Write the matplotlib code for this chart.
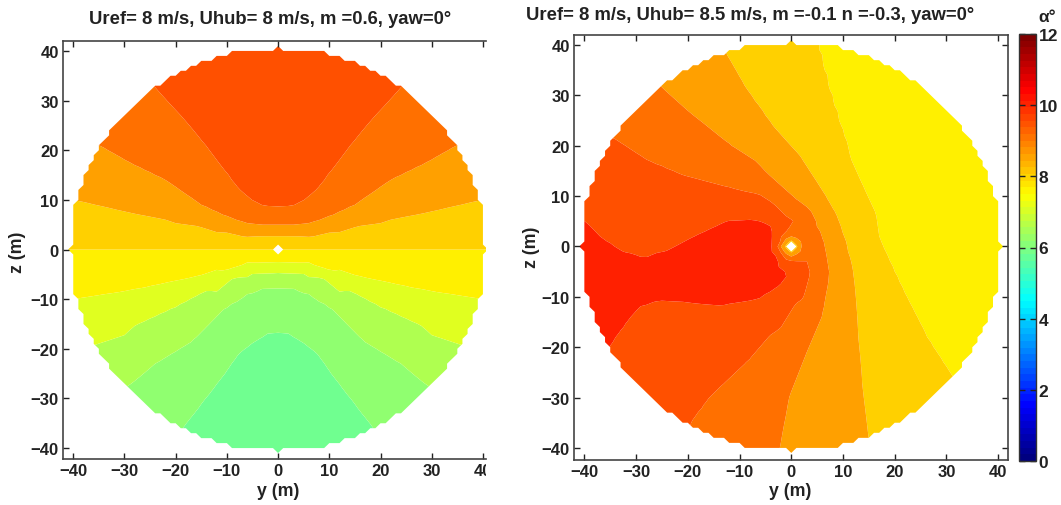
import numpy as np
import matplotlib
matplotlib.use('Agg')
from matplotlib import pyplot as plt
from matplotlib import tri
from matplotlib.cm import ScalarMappable
from matplotlib.colors import LinearSegmentedColormap, Normalize
from matplotlib.transforms import Bbox

plt.rcParams['font.family'] = ['Liberation Sans', 'DejaVu Sans']
plt.rcParams['font.weight'] = 'bold'

W, H = 1061, 506
INK = '#222222'

# left rotor: isolines, y >= 0 half (mirrored below)
l60_y = [0, 2, 5, 7.6, 10.8, 14.7, 18.6, 24]
l60_z = [-16.7, -16.9, -18.8, -20.8, -25.5, -30.7, -35.9, -42.5]
l65_y = [0, 3, 6, 10.8, 17.3, 24, 29, 35]
l65_z = [-7.7, -7.8, -9, -12, -18.8, -23, -27.2, -32.5]
l70_y = [0, 5, 8.7, 14, 20, 28, 35.4, 42]
l70_z = [-4.7, -4.9, -5.7, -8.2, -11.5, -15.3, -19.1, -22.5]
l75_y = [0, 4, 8, 11, 15.7, 20, 25, 32, 39.5, 43]
l75_z = [-2.6, -2.7, -3.6, -4.4, -5.4, -6.3, -7.4, -8.7, -9.9, -10.6]
l80_y = [0, 3, 6, 9, 12, 16, 20, 25, 30, 36, 43]
l80_z = [0, 0, 0, 0, 0, 0, 0, 0, 0, 0, 0]
l85_y = [0, 3, 6.3, 10, 15.7, 22, 29, 39.5, 43]
l85_z = [2.7, 2.7, 2.5, 3.4, 4.7, 6, 7.4, 9.9, 10.7]
l90_y = [0, 3, 6, 10, 15, 22, 29, 35, 42]
l90_z = [5, 5, 5.2, 6.6, 9, 14, 17.5, 21, 25]
l95_y = [0, 2, 4, 5.5, 7.6, 10.5, 14, 19, 24.2, 31]
l95_z = [8.4, 8.5, 9.2, 10.2, 12, 16, 20.8, 27, 33, 41.5]
# points inside the left bands
l57_y = [0, 0, 0, 12, 5, 10]
l57_z = [-25, -35, -43, -43, -30, -38]
l625_y = [0, 4, 8, 14, 22, 30]
l625_z = [-12, -13, -16, -23, -33, -37]
l675_y = [0, 6, 12, 22, 30, 38]
l675_z = [-6, -7.2, -11, -17, -21, -25]
l725_y = [0, 6, 12, 20, 30, 42]
l725_z = [-3.6, -3.9, -6, -9, -13.5, -16.5]
l775_y = [0, 6, 12, 20, 30, 43]
l775_z = [-1.3, -1.3, -2.2, -3.2, -4.2, -5.3]
l825_y = [0, 6, 12, 20, 30, 43]
l825_z = [1.4, 1.3, 1.8, 2.8, 3.8, 5.3]
l875_y = [0, 6, 12, 20, 30, 42]
l875_z = [3.9, 3.9, 5.2, 7.8, 12, 18]
l925_y = [0, 5, 10, 18, 25, 32, 37]
l925_z = [6.7, 7.2, 10, 17.2, 23.5, 30, 36]
l98_y = [0, 0, 0, 12, 5, 10, 20]
l98_z = [15, 30, 43, 42, 20, 30, 36]

# right rotor: isolines
r80_y = [5, 5.5, 8.1, 10.7, 13.9, 17.1, 21.6, 26.2, 31, 34]
r80_z = [42, 40.1, 29.9, 21.3, 12, 1.4, -8.5, -17.7, -25.3, -28]
r85_y = [-14.5, -12.5, -8.6, -3.5, 1.7, 5.5, 8.8, 10.5, 12, 12.9, 13.6, 14.9, 15.5]
r85_z = [42, 38.2, 31.2, 23.9, 18, 12, 6.1, 1, -5.2, -17.1, -26.3, -37.6, -42]
r90_y = [-28, -25.1, -19.6, -11.9, -4.8, 1, 4.9, 6.3, 7.3, 6.2, 3, -0.3, -2.2, -2.8]
r90_z = [35, 31.7, 26.6, 20.3, 14.7, 9.4, 4.1, 1, -5.2, -12.4, -21, -29.6, -40, -43]
r95_y = [-37, -34.1, -28, -20.3, -11.9, -3.5, 0.4, -0.5, -1.9, -2.2, -1.7, 0.7,
         3, 3.7, 2.3, -2.2, -8.6, -13.8, -16.7, -19.6, -23]
r95_z = [23.5, 21.4, 17.3, 14, 11.7, 8.6, 5.1, 3.4, 2.1, 0.1, -1.7, -2.7,
         -2.8, -5.2, -10.5, -16.4, -23, -28, -31, -35, -41]
r100_y = [-42, -39.9, -36.4, -32.5, -28.3, -24.1, -19.9, -12.2, -7.4, -4.1, -3.5, -3.6, -2.5,
          -0.6, -2.2, -6.4, -13.2, -19.6, -25.4, -29.3, -32.5, -35.1, -36.5]
r100_z = [6.5, 5, 1.4, -1.2, -2.3, -0.9, 1.4, 5.1, 5.4, 4.4, 2.1, -0.5, -2.5,
          -5.5, -7.8, -10.5, -11.6, -11.1, -10.6, -11.8, -15.8, -19.7, -23]
# hub ring and points inside the right bands
ring_y = [2, 1.4, 0, -1.4, -2, -1.4, 0, 1.4]
ring_z = [0, 1.4, 2, 1.4, 0, -1.4, -2, -1.4]
hub_y = [1, 0, -1, 0]
hub_z = [0, 1, 0, -1]
r775_y = [20, 43, 43, 30, 12, 25, 30, 10, 15, 20, 27, 33, 35, 38]
r775_z = [20, 15, -12, 33, 42, 5, -10, 30, 20, 8, -5, -20, 10, -5]
r825_y = [-4, -1.6, 2.5, 8, 12.8, 15.8, 18.9, 22, 26]
r825_z = [43, 35, 25, 15, 5, -5, -15, -25, -35]
r875_y = [-22, -15, -6, 0.8, 6.8, 8.4, 9.6, 9, 7.6, 6.6, 6]
r875_z = [38, 30, 20, 12, 5, 0, -5, -15, -25, -35, -42]
r925_y = [-29.5, -19, -7.5, 0, 2.8, 4, 5, 5.5, 4.8, 2.8, -2, -5, -10.5, -13]
r925_z = [26.8, 19.8, 13.8, 7.6, 5, 1, 1.5, -5, -9, -13, -20, -26, -36, -42]
r975_y = [-42, -37, -30, -20, -10, -5, -2, -2.9, -1, 1.5, -1, -6, -15, -25, -30, -22, -37]
r975_z = [15, 13.5, 8.5, 8, 8, 7, 4.5, 0, -3.5, -5.5, -9.5, -15, -20, -22, -25, -33, -28]
r1025_y = [-20, -35, -10, -42, -6, -28, -30, -38, -38, -15, -10, -5.5, -4, -15, -25, -34, -37]
r1025_z = [-5, -8, -3, -5, -4, -6, -6, -2, -10, -1, 1.5, 1, -4.5, -7, -5, -9, -15]

levels = np.arange(5.5, 11, 0.5)
band_colors = ['#70FF90', '#90FF70', '#AFFF50', '#E0FF20', '#FFF000',
               '#FFD000', '#FFA000', '#FF7000', '#FF5000', '#FF2000']
tick_vals = [-40, -30, -20, -10, 0, 10, 20, 30, 40]
bar_ticks = [0, 2, 4, 6, 8, 10, 12]
jet_pos = [0, 0.125, 0.375, 0.625, 0.875, 1]
jet_rgb = [(0, 0, 0.5), (0, 0, 1), (0, 1, 1), (1, 1, 0), (1, 0, 0), (0.5, 0, 0)]

jet = LinearSegmentedColormap.from_list('matlab_jet', list(zip(jet_pos, jet_rgb)), N=64)
norm = Normalize(0, 12)


def mirror(y, z):
    # left field is symmetric in y
    y = np.array(y, float)
    z = np.array(z, float)
    return np.r_[y, -y[y > 0]], np.r_[z, z[y > 0]]


def on_grid(ys, zs, vals):
    # 1 m grid with the rotor mask, as in the original staircase outline
    ys = np.concatenate(ys)
    zs = np.concatenate(zs)
    vals = np.concatenate(vals)
    pts = np.c_[ys, zs, vals]
    _, idx = np.unique(pts[:, :2], axis=0, return_index=True)
    pts = pts[idx]
    t = tri.Triangulation(pts[:, 0], pts[:, 1])
    f = tri.LinearTriInterpolator(t, pts[:, 2])
    gy, gz = np.meshgrid(np.arange(-41, 42), np.arange(-41, 42))
    a = np.ma.filled(f(gy, gz), np.nan)
    r = np.hypot(gy, gz)
    a = np.ma.masked_where((r > 41) | (r < 0.5) | np.isnan(a), a)
    return gy, gz, a


def make_axes(fig, x0, x1, y0, y1):
    return fig.add_axes([x0 / W, 1 - y1 / H, (x1 - x0) / W, (y1 - y0) / H])


def style(ax):
    ax.set_xticks(tick_vals)
    ax.set_yticks(tick_vals)
    ax.tick_params(direction='in', length=4, width=1, color=INK, top=True, right=True,
                   labelsize=12, labelcolor=INK, pad=3)
    for s in ax.spines.values():
        s.set_linewidth(1.2)
        s.set_color('#444444')


left_ys, left_zs, left_vals = [], [], []
for y, z, v in [(l60_y, l60_z, 6.0), (l65_y, l65_z, 6.5), (l70_y, l70_z, 7.0), (l75_y, l75_z, 7.5),
                (l80_y, l80_z, 8.0), (l85_y, l85_z, 8.5), (l90_y, l90_z, 9.0), (l95_y, l95_z, 9.5),
                (l57_y, l57_z, 5.7), (l625_y, l625_z, 6.25), (l675_y, l675_z, 6.75),
                (l725_y, l725_z, 7.25), (l775_y, l775_z, 7.75), (l825_y, l825_z, 8.25),
                (l875_y, l875_z, 8.75), (l925_y, l925_z, 9.25), (l98_y, l98_z, 9.8)]:
    my, mz = mirror(y, z)
    left_ys.append(my)
    left_zs.append(mz)
    left_vals.append(np.full(len(my), v))

right_ys, right_zs, right_vals = [], [], []
for y, z, v in [(r80_y, r80_z, 8.0), (r85_y, r85_z, 8.5), (r90_y, r90_z, 9.0), (r95_y, r95_z, 9.5),
                (r100_y, r100_z, 10.0), (ring_y, ring_z, 9.0), (hub_y, hub_z, 8.4),
                (r775_y, r775_z, 7.75), (r825_y, r825_z, 8.25), (r875_y, r875_z, 8.75),
                (r925_y, r925_z, 9.25), (r975_y, r975_z, 9.75), (r1025_y, r1025_z, 10.25)]:
    right_ys.append(np.array(y, float))
    right_zs.append(np.array(z, float))
    right_vals.append(np.full(len(y), v))

fig = plt.figure(figsize=(W / 100, H / 100), dpi=100)

ax1 = make_axes(fig, 63, 486, 42, 460)
gy, gz, a = on_grid(left_ys, left_zs, left_vals)
ax1.contourf(gy, gz, a, levels=levels, colors=band_colors, corner_mask=True, antialiased=True)
ax1.set_xlim(-42, 40.6)
ax1.set_ylim(-42.2, 42)
style(ax1)
ax1.spines['right'].set_visible(False)
ax1.tick_params(right=False)

ax2 = make_axes(fig, 574, 1008, 36, 461)
gy, gz, a = on_grid(right_ys, right_zs, right_vals)
ax2.contourf(gy, gz, a, levels=levels, colors=band_colors, corner_mask=True, antialiased=True)
ax2.set_xlim(-42, 41.9)
ax2.set_ylim(-42.4, 42)
style(ax2)

cax = make_axes(fig, 1019, 1036, 35, 462)
cb = fig.colorbar(ScalarMappable(norm=norm, cmap=jet), cax=cax)
cb.set_ticks(bar_ticks)
cax.tick_params(direction='in', length=4, width=1, color=INK, left=True, right=True,
                labelsize=12.5, labelcolor=INK, pad=2)
cb.outline.set_linewidth(1)
cb.outline.set_edgecolor('#333333')

# the last x label of the left panel is cut off at the panel edge
clip = Bbox([[0, 0], [486, H]])
for lbl in ax1.get_xticklabels():
    lbl.set_clip_box(clip)
    lbl.set_clip_on(True)

fig.text(270 / W, 1 - 19 / H, 'Uref= 8 m/s, Uhub= 8 m/s, m =0.6, yaw=0°', ha='center', va='center',
         fontsize=13.3, color=INK)
fig.text(750 / W, 1 - 15 / H, 'Uref= 8 m/s, Uhub= 8.5 m/s, m =-0.1 n =-0.3, yaw=0°', ha='center', va='center',
         fontsize=13.3, color=INK)
fig.text(1047 / W, 1 - 17 / H, 'α°', ha='center', va='center', fontsize=12.5, color=INK)
fig.text(278 / W, 1 - 492 / H, 'y (m)', ha='center', va='center', fontsize=12.8, color=INK)
fig.text(790 / W, 1 - 492 / H, 'y (m)', ha='center', va='center', fontsize=12.8, color=INK)
fig.text(18 / W, 1 - 252 / H, 'z (m)', ha='center', va='center', rotation=90, fontsize=12.8, color=INK)
fig.text(532 / W, 1 - 247 / H, 'z (m)', ha='center', va='center', rotation=90, fontsize=12.8, color=INK)

fig.savefig('out.png', dpi=100)
